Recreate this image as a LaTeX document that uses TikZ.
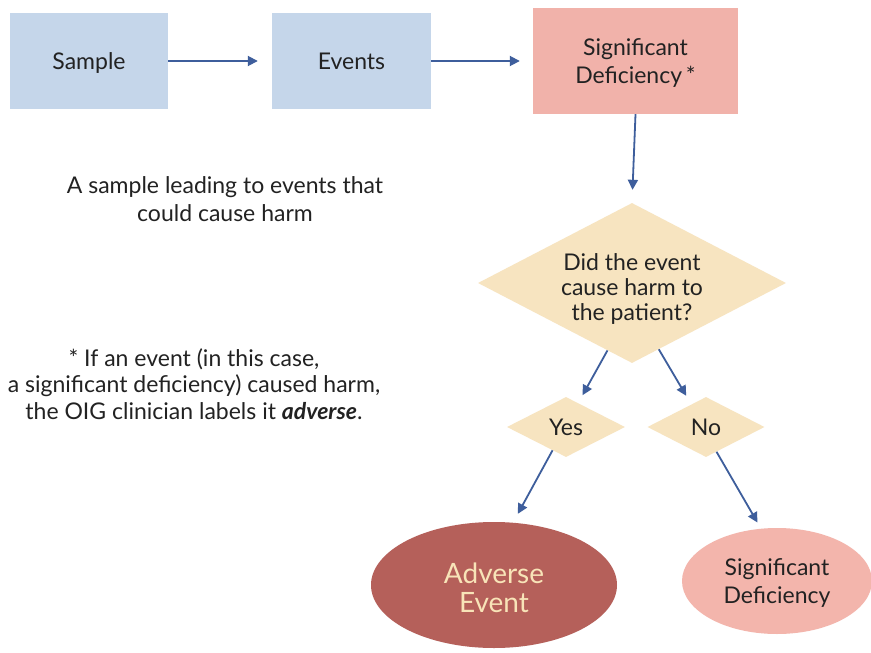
\documentclass[tikz,border=0pt]{standalone}
\usepackage{fontspec}
\setmainfont{Lato}
\usetikzlibrary{shapes.geometric,arrows.meta}
\definecolor{boxblue}{HTML}{C5D6EA}
\definecolor{boxpink}{HTML}{F1B2AA}
\definecolor{diafill}{HTML}{F7E4C0}
\definecolor{advfill}{HTML}{B5605A}
\definecolor{advtext}{HTML}{F8E4B8}
\definecolor{sdfill}{HTML}{F3B5AC}
\definecolor{arrblue}{HTML}{3E5E9C}
\definecolor{txt}{HTML}{222222}
\begin{document}
\begin{tikzpicture}[x=1pt,y=-1pt,
  every node/.style={text=txt, align=center, inner sep=0pt},
  lbl/.style={font=\fontsize{23}{28}\selectfont},
  rectbox/.style={rectangle, lbl},
  decision/.style={diamond, shape aspect=2, fill=diafill, font=\fontsize{23}{25}\selectfont},
  conn/.style={draw=arrblue, line width=1.8pt, -{Triangle[length=10pt,width=10pt]}}
]
\useasboundingbox (0,0) rectangle (871,653);
\fill[white] (0,0) rectangle (871,653);

\node[rectbox, fill=boxblue, minimum width=158pt, minimum height=96pt] (sample) at (89,61) {\rule{0pt}{20pt}Sample};
\node[rectbox, fill=boxblue, minimum width=159pt, minimum height=96pt] (events) at (351.5,61) {Events};
\node[rectbox, fill=boxpink, minimum width=205pt, minimum height=106pt] (sd) at (635.5,61) {\rule{0pt}{20pt}Significant\\Deficiency\,*};

\node[decision, minimum width=308pt, minimum height=160pt] (dq) at (632,283) {\rule{0pt}{28pt}Did the event\\cause harm to\\the patient?};
\node[decision, minimum width=118pt, minimum height=60pt] (yes) at (566,427) {Yes};
\node[decision, minimum width=117pt, minimum height=60pt] (no) at (706,427) {No};

\node[ellipse, fill=advfill, minimum width=246pt, minimum height=126pt, text=advtext, font=\fontsize{28}{29}\selectfont] (adv) at (494,585) {\rule{0pt}{26pt}Adverse\\Event};
\node[ellipse, fill=sdfill, minimum width=190pt, minimum height=106pt, lbl] (sdell) at (777,581) {\rule{0pt}{21pt}Significant\\Deficiency};

\node[lbl] (cap) at (225,199) {A sample leading to events that\\could cause harm};
\node[font=\fontsize{23}{26.5}\selectfont] (note) at (194,384) {* If an event (in this case,\\a significant deficiency) caused harm,\\the OIG clinician labels it \textbf{\textit{adverse}}.};

\draw[conn, shorten >=14pt] (sample.east) -- (events.west);
\draw[conn, shorten >=13pt] (events.east) -- (sd.west);
\draw[conn, shorten >=13pt] (sd.south) -- (dq.north);
\draw[conn, shorten >=9pt] (dq.250.8) -- (yes.63);
\draw[conn, shorten >=10pt] (dq.292.8) -- (no.123.3);
\draw[conn, shorten >=10pt] (yes.240.8) -- (adv.73.7);
\draw[conn, shorten >=7pt] (no.293.7) -- (sdell.107.8);
\end{tikzpicture}
\end{document}
